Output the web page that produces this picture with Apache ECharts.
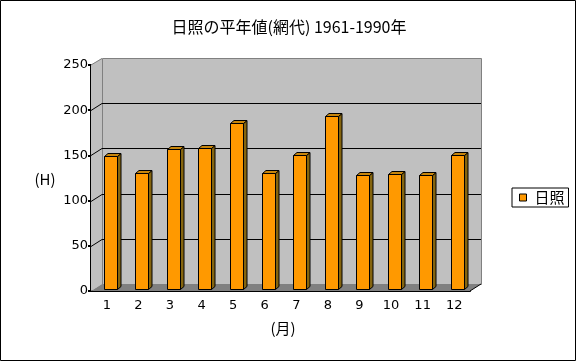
<!DOCTYPE html>
<html>
<head>
<meta charset="utf-8">
<script src="https://cdn.jsdelivr.net/npm/echarts@6/dist/echarts.min.js"></script>
<style>
html,body{margin:0;padding:0;background:#fff;}
#c{width:578px;height:362px;}
</style>
</head>
<body>
<div id="c"></div>
<script>
// ---- data ----
const months = ['1','2','3','4','5','6','7','8','9','10','11','12'];
const sunshine = [149, 131, 157, 158, 186, 130, 150, 194, 128, 129, 128, 150];
const yTicks = [0, 50, 100, 150, 200, 250];
const titleText = '日照の平年値(網代) 1961-1990年';
const seriesName = '日照';

// ---- style constants ----
const DX = 11, DY = -7;          // wall depth offset
const BAR_W = 13.4, BAR_OFF = 3.5, BAR_DX = 3.5, BAR_DY = -3;
const yMax = yTicks[yTicks.length - 1];

function renderWalls(params, api) {
  const cs = params.coordSys;
  const x0 = cs.x, x1 = cs.x + cs.width;
  const yb = api.coord([0, 0])[1];
  const yt = api.coord([0, yMax])[1];
  const kids = [];
  kids.push({type:'polygon', shape:{points:[[x0,yb],[x0,yt],[x0+DX,yt+DY],[x0+DX,yb+DY]]},
    style:{fill:'#c0c0c0', stroke:null}});
  kids.push({type:'rect', shape:{x:x0+DX+0.5, y:yt+DY+0.5, width:cs.width, height:yb-yt},
    style:{fill:'#c0c0c0', stroke:'#808080', lineWidth:1}});
  kids.push({type:'polygon', shape:{points:[[x0,yb],[x1,yb],[x1+DX,yb+DY],[x0+DX,yb+DY]]},
    style:{fill:'#808080', stroke:null}});
  yTicks.forEach(function(v){
    const y = Math.round(api.coord([0, v])[1]) + 0.5;
    if (v > 0 && v < yMax) {
      kids.push({type:'line', shape:{x1:x0+DX, y1:y+DY, x2:x1+DX, y2:y+DY}, style:{stroke:'#000', lineWidth:1}});
      kids.push({type:'line', shape:{x1:x0, y1:y, x2:x0+DX, y2:y+DY}, style:{stroke:'#000', lineWidth:1}});
    }
  });
  kids.push({type:'line', shape:{x1:x0, y1:yt, x2:x0+DX, y2:yt+DY+0.5}, style:{stroke:'#808080', lineWidth:1}});
  kids.push({type:'line', shape:{x1:x1, y1:yb, x2:x1+DX, y2:yb+DY}, style:{stroke:'#000', lineWidth:1}});
  return {type:'group', children:kids};
}

function renderBar(params, api) {
  const idx = api.value(0);
  const val = api.value(1);
  const top = api.coord([idx, val]);
  const base = api.coord([idx, 0]);
  const xl = Math.round(top[0] + BAR_OFF - BAR_W/2) + 0.5;
  const xr = xl + Math.round(BAR_W);
  const yt = Math.round(top[1]) + 0.5;
  const yb = Math.round(base[1]) - 1.5;
  const st = {stroke:'#000', lineWidth:1};
  return {type:'group', children:[
    {type:'polygon', shape:{points:[[xr,yb],[xr,yt],[xr+BAR_DX,yt+BAR_DY],[xr+BAR_DX,yb+BAR_DY]]},
      style:Object.assign({fill:'#85650f'}, st)},
    {type:'polygon', shape:{points:[[xl,yt],[xr,yt],[xr+BAR_DX,yt+BAR_DY],[xl+BAR_DX,yt+BAR_DY]]},
      style:Object.assign({fill:'#c8860c'}, st)},
    {type:'rect', shape:{x:xl, y:yt, width:xr-xl, height:yb-yt},
      style:Object.assign({fill:'#ff9900'}, st)}
  ]};
}

const chart = echarts.init(document.getElementById('c'), null, {renderer:'canvas'});
chart.setOption({
  animation:false,
  backgroundColor:'#fff',
  title:{text:titleText, left:'center', top:14,
    textStyle:{fontSize:16, fontWeight:'normal', color:'#000', fontFamily:'"Noto Sans CJK JP", sans-serif'}},
  legend:{
    data:[{name:seriesName, icon:'rect'}],
    left:512, top:188, orient:'vertical',
    padding:[2,4,2,7], borderColor:'#000', borderWidth:1,
    itemWidth:7, itemHeight:7,
    itemStyle:{borderColor:'#000', borderWidth:1},
    textStyle:{fontSize:15, color:'#000', padding:[0,0,0,3], fontFamily:'"Noto Sans CJK JP", sans-serif'}
  },
  grid:{left:91, top:65, width:379, height:226, containLabel:false},
  xAxis:{type:'category', data:months,
    axisLine:{lineStyle:{color:'#000', width:2}},
    axisTick:{inside:true, length:4, lineStyle:{color:'#000', width:2}},
    axisLabel:{color:'#000', fontSize:13, margin:8, fontFamily:'"DejaVu Sans", sans-serif'},
    splitLine:{show:false}},
  yAxis:{type:'value', min:0, max:yMax, interval:50,
    axisLine:{show:true, lineStyle:{color:'#000', width:2}},
    axisTick:{show:true, length:3, lineStyle:{color:'#000', width:2}},
    axisLabel:{color:'#000', fontSize:13, margin:3, fontFamily:'"DejaVu Sans", sans-serif'},
    splitLine:{show:false}},
  graphic:[
    {type:'rect', shape:{x:0.5, y:0.5, width:575, height:360}, style:{fill:null, stroke:'#000', lineWidth:1}, z:100},
    {type:'text', x:45, y:179, style:{text:'(H)', fontSize:15, fill:'#000', align:'center', verticalAlign:'middle', fontFamily:'"Noto Sans CJK JP", sans-serif'}},
    {type:'text', x:283, y:328, style:{text:'(月)', fontSize:15, fill:'#000', align:'center', verticalAlign:'middle', fontFamily:'"Noto Sans CJK JP", sans-serif'}}
  ],
  series:[
    {type:'custom', name:'walls', renderItem:renderWalls, data:[[0,0]], z:1, silent:true, clip:false},
    {type:'custom', name:seriesName, renderItem:renderBar, itemStyle:{color:'#ff9900'},
      data:sunshine.map(function(v,i){return [i, v];}), z:3, clip:false,
      encode:{x:0, y:1}}
  ]
});
</script>
</body>
</html>
